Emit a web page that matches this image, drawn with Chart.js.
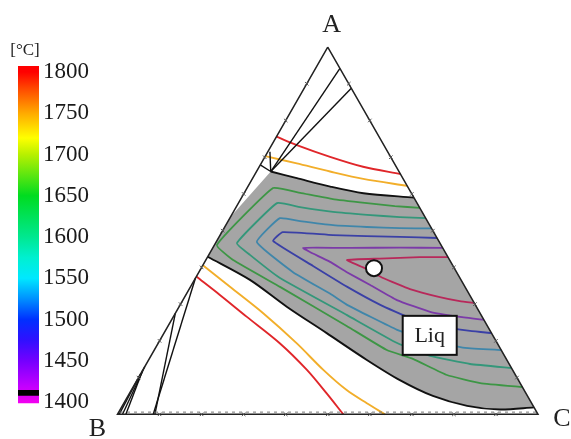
<!DOCTYPE html>
<html><head><meta charset="utf-8">
<script src="https://cdn.jsdelivr.net/npm/chart.js@4.4.1/dist/chart.umd.min.js"></script>
<style>
html,body{margin:0;padding:0;background:#fff;}
#wrap{position:relative;width:571px;height:439px;overflow:hidden;}
canvas{position:absolute;left:0;top:0;}
</style></head><body>
<div id="wrap">
<canvas id="main" width="571" height="439"></canvas>
<canvas id="cbar" width="110" height="439"></canvas>
</div>
<script>
// ---- data: compositions as [A %, C %]  (B % = 100 - A - C) ----
const vertexNames = ['A', 'B', 'C'];
const vertices = [[100, 0], [0, 0], [0, 100]];
const edgeTicks = [10, 20, 30, 40, 50, 60, 70, 80, 90];

const liquidusTop = [[66.1,3.4],[64.3,10.5],[62.0,19.6],[60.2,28.4],[59.0,41.0]];
const liquidusBottom = [[42.9,0],[36.6,13.2],[29.3,25.6],[22.1,38.7],[14.8,51.9],[9.3,62.5],[5.0,72.5],[2.3,82.0],[1.3,90.3],[1.9,98.1]];
const liquidLeftEdge = [53.7, 0];

const iso1800Top = [[75.6,0],[73.3,6.0],[70.1,15.5],[67.4,24.7],[65.4,34.6]];
const iso1750Top = [[70.3,0],[68.3,8.5],[66.1,17.5],[64.1,26.4],[62.2,37.8]];
const iso1800Bottom = [[37.5,0],[32.5,8.1],[26.6,17.4],[19.3,29.0],[12.1,39.0],[5.7,46.9],[0,53.7]];
const iso1750Bottom = [[40.6,0],[34.7,9.4],[27.5,20.9],[19.3,33.0],[12.1,42.9],[6.6,51.2],[3.0,57.8],[0,63.6]];

const iso1650 = [[56.2,43.8],[56.7,37.6],[57.5,30.6],[58.6,21.9],[60.3,13.3],[61.6,6.2],[46.1,0.6],[42.0,6.5],[34.7,21.3],[24.0,42.6],[17.5,55.3],[15.1,62.7],[10.7,73.0],[8.5,82.0],[7.4,92.6]];
const iso1600 = [[53.4,46.6],[53.7,40.3],[54.3,32.2],[55.1,23.7],[56.4,15.2],[57.5,9.2],[46.6,5.1],[43.4,9.8],[37.1,20.1],[27.0,41.1],[19.4,56.8],[15.9,66.4],[13.7,77.0],[12.6,87.4]];
const iso1550 = [[50.6,49.4],[50.7,41.8],[51.0,33.8],[51.5,25.5],[52.6,17.1],[53.4,11.9],[46.9,9.7],[38.7,22.4],[32.8,34.2],[29.8,39.7],[23.0,55.0],[20.0,64.3],[18.1,73.6],[17.5,82.5]];
const iso1500 = [[48.0,52.0],[48.3,43.0],[48.8,26.8],[49.6,14.5],[47.2,13.4],[40.4,26.3],[34.7,37.3],[29.8,47.6],[26.2,56.5],[24.0,64.7],[22.7,72.5],[22.1,77.9]];
const iso1450 = [[45.3,54.7],[45.4,44.5],[45.3,32.7],[45.3,21.5],[41.5,29.8],[38.7,35.2],[35.2,42.5],[31.1,50.9],[27.9,60.4],[26.5,68.2],[25.7,74.3]];
const iso1425 = [[42.8,57.2],[42.8,50.5],[42.4,41.2],[42.0,33.6],[39.8,38.9],[37.1,44.6],[34.1,52.5],[31.9,60.7],[30.8,66.0],[30.3,69.7]];

const phaseLines = [
  [[94.2,5.8],[66.1,3.4]],
  [[88.8,11.2],[66.1,3.4]],
  [[71.5,0.5],[66.1,3.4]],
  [[67.9,0],[66.1,3.4]],
  [[37.1,0],[0,8.5]],
  [[27.5,0],[0,8.9]],
  [[13.0,0],[0,1.2]],
  [[12.0,0],[0,2.0]],
  [[11.0,0],[0,0.4]]
];

const markedPoint = [39.8, 41.1];
const regionLabel = {text: 'Liq', at: [21.5, 63.5]};

const cbarTicks = [1400,1450,1500,1550,1600,1650,1700,1750,1800];
const cbarRange = [1399, 1807];
const cbarBand = [1408, 1414];
const cbarStops = [[1400,'#f000f0'],[1420,'#c000ff'],[1450,'#7400ff'],[1475,'#3010ff'],[1500,'#0030ff'],[1525,'#0090ff'],[1550,'#00e8ff'],[1575,'#00f0d0'],[1600,'#00e890'],[1650,'#00dc20'],[1700,'#b8f000'],[1720,'#ffff00'],[1750,'#ffaa00'],[1780,'#ff4800'],[1800,'#ff0000']];

// ---- helpers ----
const toXY = ([a, c]) => ({x: c + a / 2, y: a});
function lineDS(pts, color, width, order, extra) {
  return Object.assign({data: pts.map(toXY), borderColor: color, borderWidth: width,
    pointRadius: 0, fill: false, tension: 0, order: order}, extra || {});
}

const liquidRegion = [...liquidusTop, ...liquidusBottom.slice().reverse(), liquidLeftEdge, liquidusTop[0]];
const triangle = [...vertices, vertices[0]];
const tickPts = [];
edgeTicks.forEach(t => { tickPts.push([0, t]); tickPts.push([t, 0]); tickPts.push([t, 100 - t]); });

const datasets = [
  lineDS(liquidRegion, 'rgba(0,0,0,0)', 0, 100, {fill: 'shape', backgroundColor: '#a5a5a5'}),
  lineDS(iso1800Top, '#e0262a', 1.9, 50, {tension: 0.3}),
  lineDS(iso1750Top, '#f2ae2a', 1.9, 50, {tension: 0.3}),
  lineDS(iso1800Bottom, '#e0262a', 1.9, 50, {tension: 0.3}),
  lineDS(iso1750Bottom, '#f2ae2a', 1.9, 50, {tension: 0.3}),
  lineDS(iso1650, '#3d9645', 1.8, 50, {tension: 0.12}),
  lineDS(iso1600, '#34977a', 1.8, 50, {tension: 0.12}),
  lineDS(iso1550, '#3f86aa', 1.8, 50, {tension: 0.12}),
  lineDS(iso1500, '#3a40a6', 1.8, 50, {tension: 0.12}),
  lineDS(iso1450, '#7b3aa8', 1.8, 50, {tension: 0.12}),
  lineDS(iso1425, '#b8285a', 1.8, 50, {tension: 0.12}),
  lineDS(liquidusTop, '#111', 1.9, 40, {tension: 0.3}),
  lineDS(liquidusBottom, '#111', 1.9, 40, {tension: 0.3}),
  ...phaseLines.map(p => lineDS(p, '#111', 1.4, 40)),
  lineDS([[0.6,0.3],[0.6,99.4]], '#777', 1, 31, {borderDash: [3, 4]}),
  lineDS(triangle, '#222', 1.5, 30),
  {data: tickPts.map(toXY), showLine: false, pointStyle: 'crossRot', pointRadius: 2.5,
   borderColor: '#555', borderWidth: 1, backgroundColor: '#555', order: 29},
  {data: [toXY(markedPoint)], showLine: false, pointRadius: 8, pointBorderWidth: 2,
   pointBackgroundColor: '#fff', pointBorderColor: '#111', order: 0}
];

const labelPlugin = {
  id: 'ternaryLabels',
  afterDatasetsDraw(chart) {
    const {ctx, scales: {x, y}} = chart;
    ctx.save();
    const p = toXY(regionLabel.at);
    const cx = x.getPixelForValue(p.x), cy = y.getPixelForValue(p.y);
    ctx.fillStyle = '#fff';
    ctx.strokeStyle = '#111';
    ctx.lineWidth = 2;
    ctx.fillRect(cx - 27, cy - 19.5, 54, 39);
    ctx.strokeRect(cx - 27, cy - 19.5, 54, 39);
    ctx.fillStyle = '#222';
    ctx.font = '22px "Liberation Serif", serif';
    ctx.textAlign = 'center';
    ctx.textBaseline = 'middle';
    ctx.fillText(regionLabel.text, cx, cy + 1);
    const offs = [[4, -22], [-20, 15], [24, 5]];
    ctx.font = '26px "Liberation Serif", serif';
    vertices.forEach((v, i) => {
      const q = toXY(v);
      ctx.fillText(vertexNames[i], x.getPixelForValue(q.x) + offs[i][0], y.getPixelForValue(q.y) + offs[i][1]);
    });
    ctx.restore();
  }
};

new Chart(document.getElementById('main'), {
  type: 'line',
  data: {datasets},
  options: {
    responsive: false, animation: false,
    layout: {padding: 0, autoPadding: false},
    plugins: {legend: {display: false}, tooltip: {enabled: false}},
    scales: {
      x: {type: 'linear', display: false, min: -27.94, max: 107.85},
      y: {type: 'linear', display: false, min: -6.72, max: 112.80}
    }
  },
  plugins: [labelPlugin]
});

// ---- colour bar ----
function cbarGradient(context) {
  const chart = context.chart;
  const {ctx, chartArea, scales} = chart;
  if (!chartArea) return null;
  const ys = scales.y;
  const lo = cbarTicks[0], hi = cbarTicks[cbarTicks.length - 1];
  const g = ctx.createLinearGradient(0, ys.getPixelForValue(lo), 0, ys.getPixelForValue(hi));
  cbarStops.forEach(([v, c]) => g.addColorStop((v - lo) / (hi - lo), c));
  return g;
}
const unitPlugin = {
  id: 'unitLabel',
  afterDraw(chart) {
    const ctx = chart.ctx;
    ctx.save();
    ctx.font = '17px "Liberation Serif", serif';
    ctx.fillStyle = '#222';
    ctx.textAlign = 'center';
    ctx.textBaseline = 'middle';
    ctx.fillText('[°C]', 25, 51);
    ctx.restore();
  }
};
new Chart(document.getElementById('cbar'), {
  type: 'bar',
  data: {labels: [''], datasets: [
    {data: [cbarBand], backgroundColor: '#000', grouped: false, barPercentage: 1, categoryPercentage: 1, borderWidth: 0, order: 0},
    {data: [cbarRange], backgroundColor: cbarGradient, grouped: false, barPercentage: 1, categoryPercentage: 1, borderWidth: 0, order: 1}
  ]},
  options: {
    responsive: false, animation: false,
    layout: {padding: {left: 18, right: 0, top: 65.4, bottom: 33.7}, autoPadding: false},
    plugins: {legend: {display: false}, tooltip: {enabled: false}},
    scales: {
      x: {display: false},
      y: {position: 'right', min: 1396, max: 1808,
        grid: {display: false, drawTicks: false}, border: {display: false},
        afterBuildTicks: s => { s.ticks = cbarTicks.map(v => ({value: v})); },
        afterFit: s => { s.width = 71; },
        ticks: {font: {family: 'Liberation Serif', size: 23}, color: '#1a1a1a', padding: 4,
          callback: v => String(v)}}
    }
  },
  plugins: [unitPlugin]
});
</script>
</body></html>
